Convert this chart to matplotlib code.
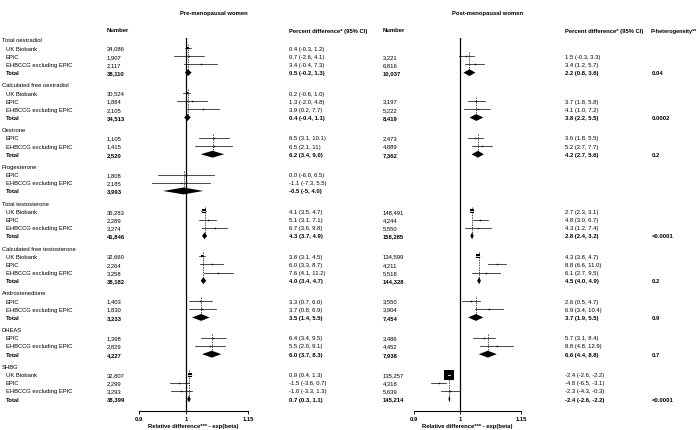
import re
import numpy as np
import matplotlib.pyplot as plt
from matplotlib.patches import Polygon
from matplotlib.transforms import blended_transform_factory

plt.rcParams['font.family'] = ['Liberation Sans', 'DejaVu Sans']

# ---- data ----
hormones = ['Total oestradiol', 'Calculated free oestradiol', 'Oestrone', 'Progesterone',
            'Total testosterone', 'Calculated free testosterone', 'Androstenedione', 'DHEAS', 'SHBG']

studies = [
    ['UK Biobank', 'EPIC', 'EHBCCG excluding EPIC'],
    ['UK Biobank', 'EPIC', 'EHBCCG excluding EPIC'],
    ['EPIC', 'EHBCCG excluding EPIC'],
    ['EPIC', 'EHBCCG excluding EPIC'],
    ['UK Biobank', 'EPIC', 'EHBCCG excluding EPIC'],
    ['UK Biobank', 'EPIC', 'EHBCCG excluding EPIC'],
    ['EPIC', 'EHBCCG excluding EPIC'],
    ['EPIC', 'EHBCCG excluding EPIC'],
    ['UK Biobank', 'EPIC', 'EHBCCG excluding EPIC'],
]

# last entry of each list is the pooled total
pre_n = [
    ['34,086', '1,907', '2,117', '38,110'],
    ['30,524', '1,884', '2,105', '34,513'],
    ['1,105', '1,415', '2,520'],
    ['1,808', '2,185', '3,993'],
    ['36,283', '2,289', '3,274', '41,846'],
    ['32,660', '2,264', '3,258', '38,182'],
    ['1,403', '1,830', '3,233'],
    ['1,398', '2,829', '4,227'],
    ['32,807', '2,299', '3,293', '38,399'],
]
pre_pct = [
    ['0.4 (-0.3, 1.2)', '0.7 (-2.6, 4.1)', '3.4 (-0.4, 7.3)', '0.5 (-0.2, 1.3)'],
    ['0.2 (-0.6, 1.0)', '1.3 (-2.0, 4.8)', '3.9 (0.2, 7.7)', '0.4 (-0.4, 1.1)'],
    ['6.5 (3.1, 10.1)', '6.5 (2.1, 11)', '6.2 (3.4, 9.0)'],
    ['0.0 (-6.0, 6.5)', '-1.1 (-7.3, 5.5)', '-0.5 (-5, 4.0)'],
    ['4.1 (3.5, 4.7)', '5.1 (3.1, 7.1)', '6.7 (3.6, 9.8)', '4.3 (3.7, 4.9)'],
    ['3.8 (3.1, 4.5)', '6.0 (3.3, 8.7)', '7.6 (4.1, 11.2)', '4.0 (3.4, 4.7)'],
    ['3.3 (0.7, 6.0)', '3.7 (0.8, 6.9)', '3.5 (1.4, 5.5)'],
    ['6.4 (3.4, 9.5)', '5.5 (2.0, 9.1)', '6.0 (3.7, 8.3)'],
    ['0.9 (0.4, 1.3)', '-1.5 (-3.6, 0.7)', '-1.0 (-3.3, 1.3)', '0.7 (0.3, 1.1)'],
]
post_n = [
    ['', '3,221', '6,816', '10,037'],
    ['', '3,197', '5,222', '8,419'],
    ['2,473', '4,889', '7,362'],
    ['', '', ''],
    ['148,491', '4,244', '5,550', '158,285'],
    ['134,599', '4,211', '5,518', '144,328'],
    ['3,550', '3,904', '7,454'],
    ['3,486', '4,452', '7,938'],
    ['135,257', '4,318', '5,639', '145,214'],
]
post_pct = [
    ['', '1.5 (-0.3, 3.3)', '3.4 (1.2, 5.7)', '2.2 (0.8, 3.6)'],
    ['', '3.7 (1.8, 5.8)', '4.1 (1.0, 7.2)', '3.8 (2.2, 5.5)'],
    ['3.6 (1.8, 5.5)', '5.2 (2.7, 7.7)', '4.2 (2.7, 5.6)'],
    ['', '', ''],
    ['2.7 (2.3, 3.1)', '4.8 (3.0, 6.7)', '4.3 (1.2, 7.4)', '2.8 (2.4, 3.2)'],
    ['4.3 (3.8, 4.7)', '8.8 (6.6, 11.0)', '6.1 (2.7, 9.5)', '4.5 (4.0, 4.9)'],
    ['2.6 (0.5, 4.7)', '6.9 (3.4, 10.4)', '3.7 (1.9, 5.5)'],
    ['5.7 (3.1, 8.4)', '8.8 (4.8, 12.9)', '6.6 (4.4, 8.8)'],
    ['-2.4 (-2.6, -2.2)', '-4.8 (-6.5, -3.1)', '-2.3 (-4.3, -0.3)', '-2.4 (-2.6, -2.2)'],
]
p_het = ['0.04', '0.0002', '0.2', '', '<0.0001', '0.2', '0.9', '0.7', '<0.0001']

xticks = [0.9, 1, 1.15]
xticklabels = ['0.9', '1', '1.15']


def parse(s):
    v = [float(t) for t in re.findall(r'-?\d+\.?\d*', s)]
    return 1 + v[0] / 100, 1 + v[1] / 100, 1 + v[2] / 100


W, H = 700, 431
fig = plt.figure(figsize=(W / 100, H / 100), dpi=100)

# row layout (row units, top = 0)
y0_px, pitch = 41, 8.16
r_top, r_bot = -0.2, 45.5
ax_bottom = 1 - (y0_px + r_bot * pitch) / H
ax_height = (r_bot - r_top) * pitch / H

ax_pre = fig.add_axes([139 / W, ax_bottom, 109 / W, ax_height])
ax_post = fig.add_axes([414 / W, ax_bottom, 107 / W, ax_height])

fs = 4.2
for ax in (ax_pre, ax_post):
    ax.set_xscale('log')
    ax.set_xlim(0.9, 1.15)
    ax.set_ylim(r_bot, r_top)
    for sp in ('top', 'right', 'left'):
        ax.spines[sp].set_visible(False)
    ax.spines['bottom'].set_linewidth(0.8)
    ax.set_yticks([])
    ax.set_xticks(xticks)
    ax.set_xticklabels(xticklabels, fontweight='bold')
    ax.xaxis.set_minor_locator(plt.NullLocator())
    ax.tick_params(axis='x', labelsize=fs, length=2, width=0.6, pad=1.2)
    ax.set_xlabel('Relative difference*** - exp(beta)', fontsize=fs,
                  fontweight='bold', labelpad=1.5)
    ax.axvline(1, color='black', lw=0.9, zorder=1)


def px_per_log(ax):
    bb = ax.get_position()
    return bb.width * W / np.log(1.15 / 0.9)


def draw_group(ax, pcts, r_first):
    k = px_per_log(ax)
    n_st = len(pcts) - 1
    for j in range(n_st):
        if not pcts[j]:
            continue
        est, lo, hi = parse(pcts[j])
        r = r_first + j
        ax.plot([lo, hi], [r, r], color='black', lw=0.5, zorder=3)
        w = (3.92 / ((hi - lo) * 100)) ** 2
        side = max(9.2 * np.sqrt(w / 100), 1.4)
        ax.plot(est, r, marker='s', ms=side * 0.72, color='black', mew=0, zorder=4)
        half = side / 2 / k
        blo, bhi = est * np.exp(-half), est * np.exp(half)
        a, b = max(lo, blo), min(hi, bhi)
        if side > 3 and b > a:
            ax.plot([a, b], [r, r], color='white', lw=0.6, zorder=5)
    if not pcts[-1]:
        return
    est, lo, hi = parse(pcts[-1])
    rt = r_first + n_st
    h = 0.42
    ax.add_patch(Polygon([(lo, rt), (est, rt - h), (hi, rt), (est, rt + h)],
                         closed=True, color='black', lw=0, zorder=4))
    first = next(j for j in range(n_st) if pcts[j])
    ax.plot([est, est], [r_first + first - 0.5, rt], color='black', lw=0.5,
            ls=(0, (2, 1.5)), zorder=2)


tr = blended_transform_factory(fig.transFigure, ax_pre.transData)


def put(xpx, r, s, bold=False, ha='left'):
    fig.text(xpx / W, r, s, transform=tr, fontsize=fs, va='center', ha=ha,
             fontweight='bold' if bold else 'normal')


r = 0.0
for g, name in enumerate(hormones):
    put(2, r, name)
    for j, st in enumerate(studies[g]):
        put(6, r + 1 + j, st)
        put(107, r + 1 + j, pre_n[g][j])
        put(289, r + 1 + j, pre_pct[g][j])
        put(383, r + 1 + j, post_n[g][j])
        put(565, r + 1 + j, post_pct[g][j])
    rt = r + 1 + len(studies[g])
    put(6, rt, 'Total', bold=True)
    put(107, rt, pre_n[g][-1], bold=True)
    put(289, rt, pre_pct[g][-1], bold=True)
    put(383, rt, post_n[g][-1], bold=True)
    put(565, rt, post_pct[g][-1], bold=True)
    put(652, rt, p_het[g], bold=True)
    draw_group(ax_pre, pre_pct[g], r + 1)
    draw_group(ax_post, post_pct[g], r + 1)
    r = rt + 1.5

# column headers and titles
hy = 1 - 31 / H
for xpx, s, f in [(107, 'Number', fs), (289, 'Percent difference* (95% CI)', fs),
                  (383, 'Number', fs), (565, 'Percent difference* (95% CI)', fs),
                  (651, 'P-heterogeneity**', 3.95)]:
    fig.text(xpx / W, hy, s, fontsize=f, fontweight='bold', va='center', ha='left')
fig.text(214 / W, 1 - 13 / H, 'Pre-menopausal women', fontsize=fs, fontweight='bold',
         va='center', ha='center')
fig.text(488 / W, 1 - 13 / H, 'Post-menopausal women', fontsize=fs, fontweight='bold',
         va='center', ha='center')

fig.savefig('out.png', dpi=100)
